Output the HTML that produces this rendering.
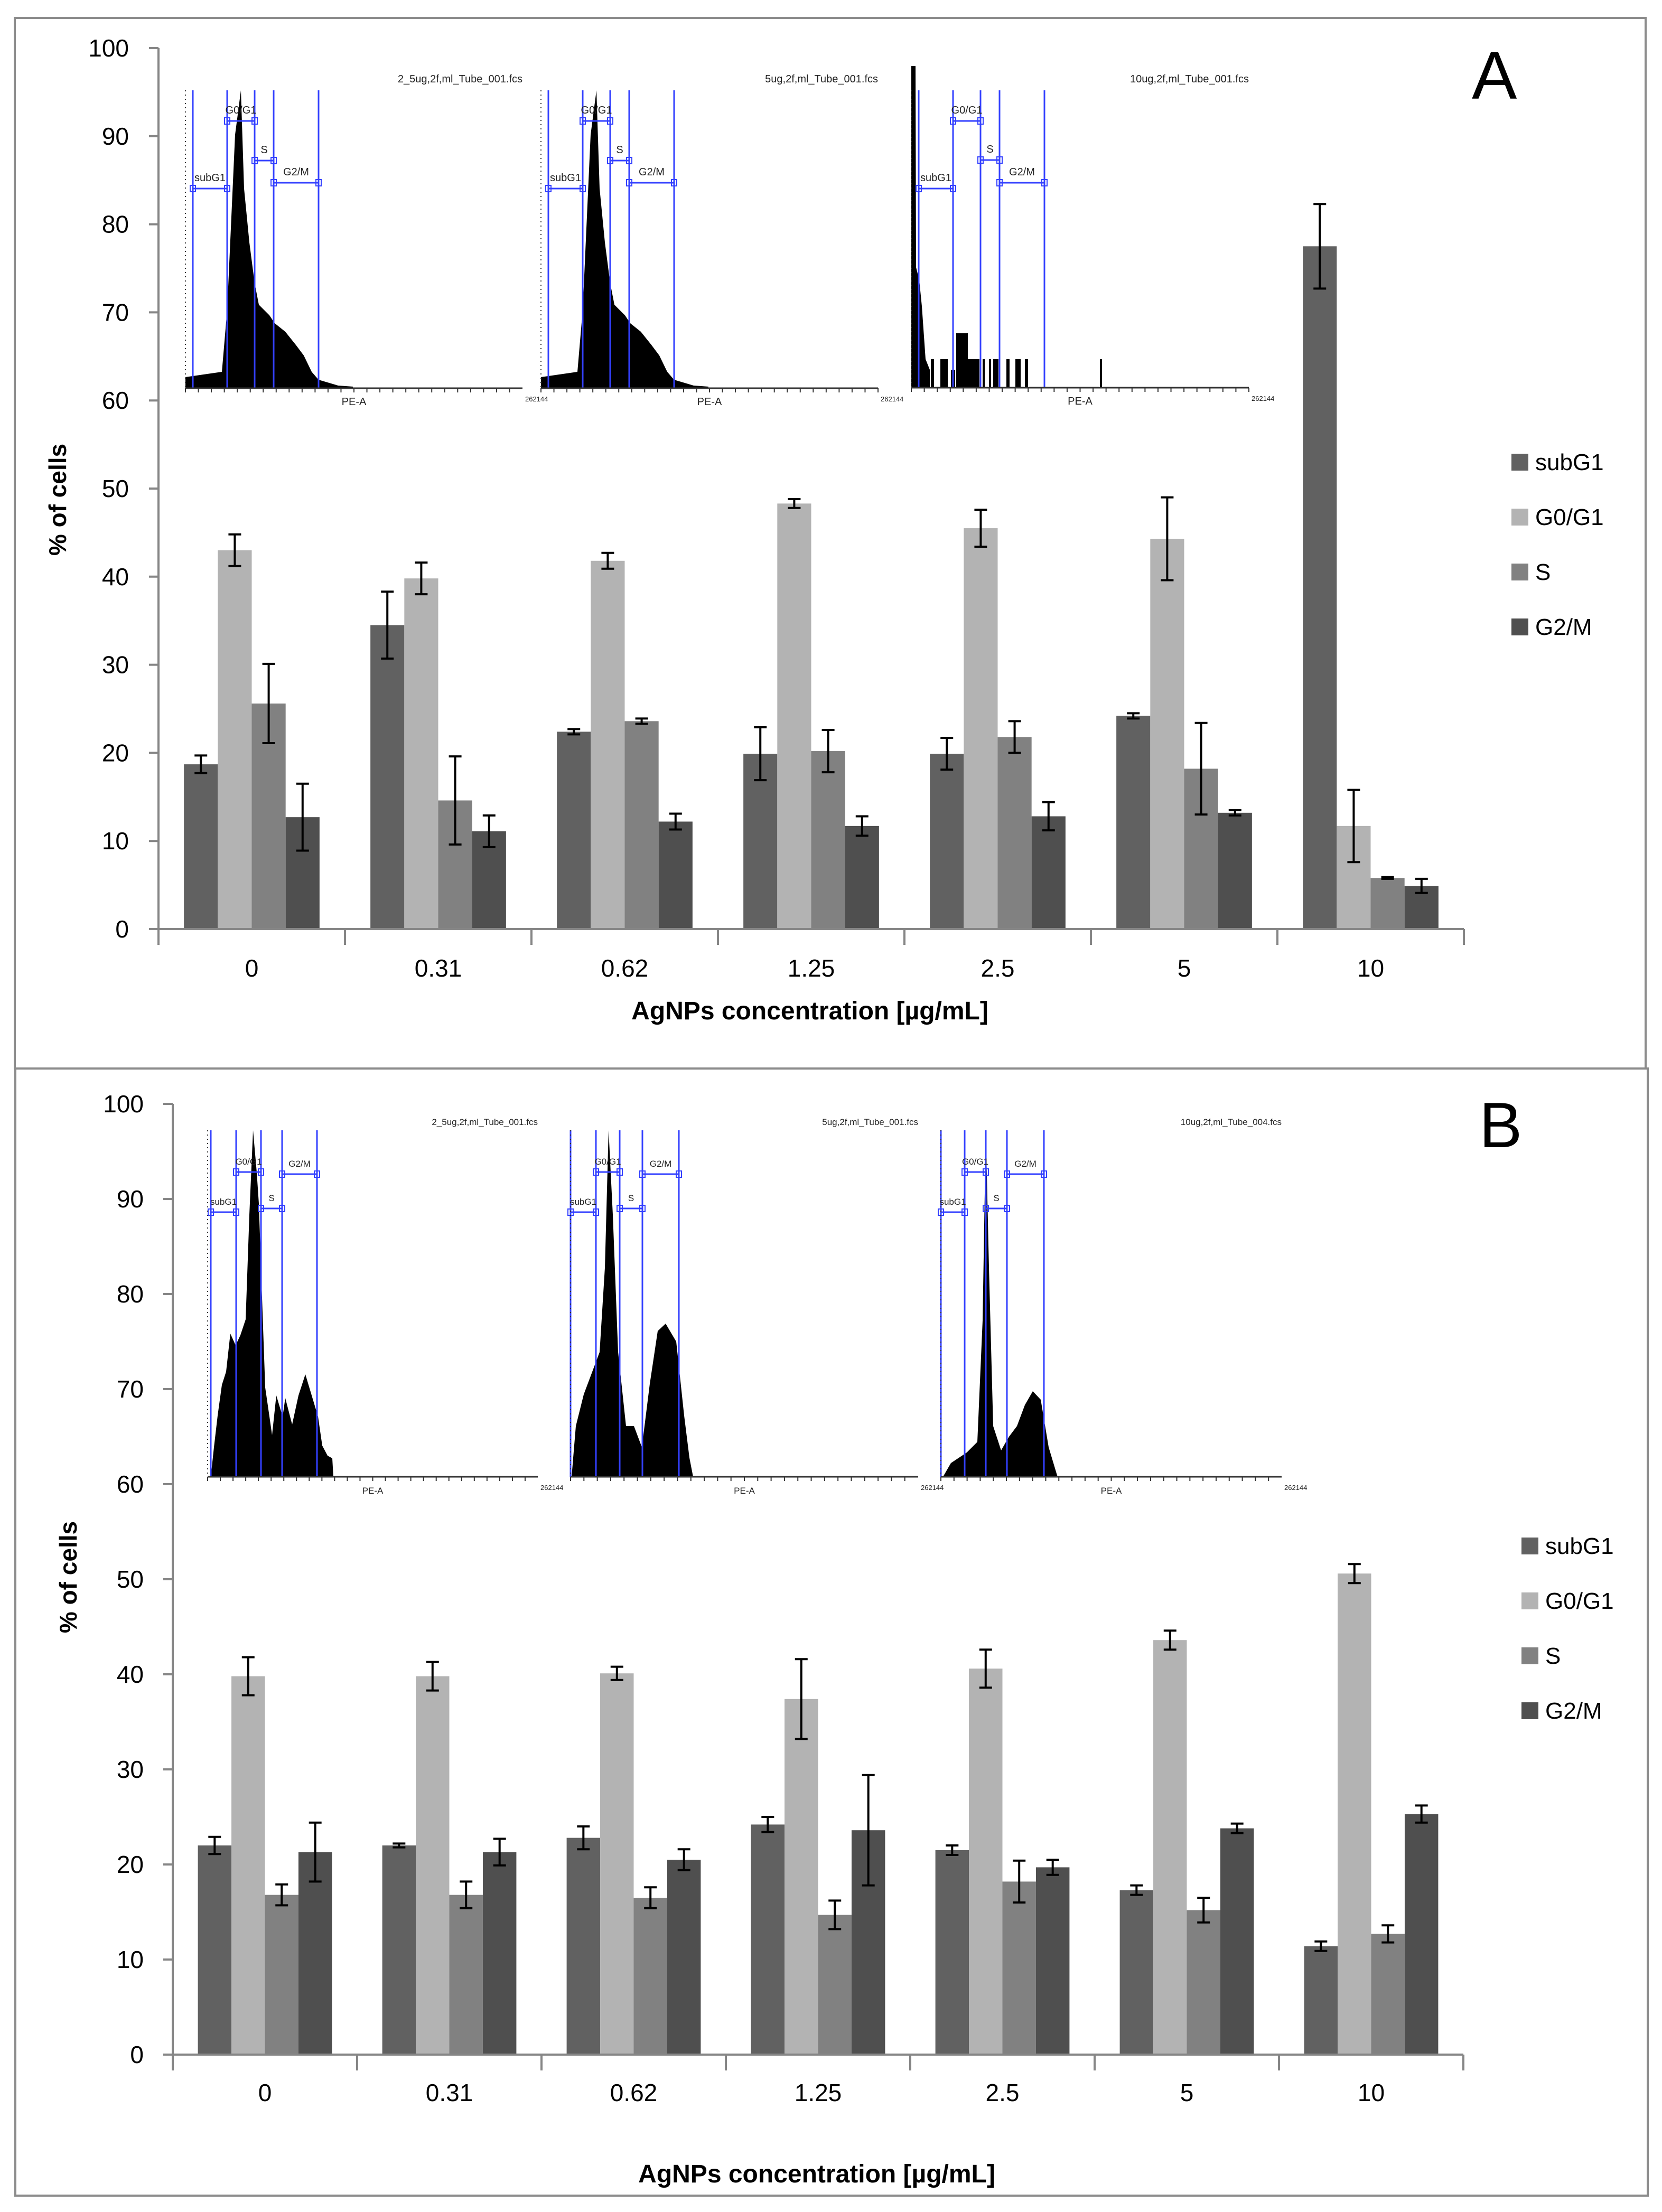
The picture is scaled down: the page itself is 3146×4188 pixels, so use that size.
<!DOCTYPE html>
<html><head><meta charset="utf-8">
<style>
html,body{margin:0;padding:0;background:#fff;}
svg{display:block;font-family:"Liberation Sans",sans-serif;}
</style></head>
<body>
<svg id="fig" width="3146" height="4188" viewBox="0 0 3146 4188" xmlns="http://www.w3.org/2000/svg">
<rect x="0" y="0" width="3146" height="4188" fill="#fff"/>
<rect x="28" y="34" width="3087" height="1989" fill="none" stroke="#8c8c8c" stroke-width="4"/>
<rect x="29" y="2023" width="3090" height="2134" fill="none" stroke="#8c8c8c" stroke-width="4"/>
<text x="2786" y="187" font-size="128">A</text>
<text x="2800" y="2172" font-size="122">B</text>
<g id="gA"></g>
<g id="gB"></g>
<g id="insets"></g>
</svg>
<script>
const categories = ["0","0.31","0.62","1.25","2.5","5","10"];
const seriesNames = ["subG1","G0/G1","S","G2/M"];
const yTicks = [0,10,20,30,40,50,60,70,80,90,100];
// Panel A values
const aSubG1 = [18.7,34.5,22.4,19.9,19.9,24.2,77.5];
const aG0G1  = [43.0,39.8,41.8,48.3,45.5,44.3,11.7];
const aS     = [25.6,14.6,23.6,20.2,21.8,18.2,5.8];
const aG2M   = [12.7,11.1,12.2,11.7,12.8,13.2,4.9];
const aErrSubG1 = [1.0,3.8,0.3,3.0,1.8,0.3,4.8];
const aErrG0G1  = [1.8,1.8,0.9,0.5,2.1,4.7,4.1];
const aErrS     = [4.5,5.0,0.3,2.4,1.8,5.2,0.1];
const aErrG2M   = [3.8,1.8,0.9,1.1,1.6,0.3,0.8];
// Panel B values
const bSubG1 = [22.0,22.0,22.8,24.2,21.5,17.3,11.4];
const bG0G1  = [39.8,39.8,40.1,37.4,40.6,43.6,50.6];
const bS     = [16.8,16.8,16.5,14.7,18.2,15.2,12.7];
const bG2M   = [21.3,21.3,20.5,23.6,19.7,23.8,25.3];
const bErrSubG1 = [0.9,0.2,1.2,0.8,0.5,0.5,0.5];
const bErrG0G1  = [2.0,1.5,0.7,4.2,2.0,1.0,1.0];
const bErrS     = [1.1,1.4,1.1,1.5,2.2,1.3,0.9];
const bErrG2M   = [3.1,1.4,1.1,5.8,0.8,0.5,0.9];

const NS="http://www.w3.org/2000/svg";
const colors=["#616161","#b3b3b3","#818181","#4f4f4f"];
function mk(tag,attrs,parent){const e=document.createElementNS(NS,tag);for(const k in attrs)e.setAttribute(k,attrs[k]);parent.appendChild(e);return e;}

function drawChart(g,cfg){
  const {x0,y0,unit,cw,vals,errs,labelRight,catY,xTitle,xTitleX,xTitleY,yTitleX,yTitleY,legX,legY}=cfg;
  const yS=v=>y0-v*unit;
  const xEnd=x0+cw*categories.length;
  // y ticks
  yTicks.forEach(t=>{
    const tk=mk('line',{x1:x0-18,x2:x0,y1:yS(t),y2:yS(t),stroke:'#868686','stroke-width':4},g);
    
    
    const tl=mk('text',{x:labelRight,y:yS(t)+16,'font-size':46,'text-anchor':'end'},g);
    tl.textContent=t;
    
    
  });
  const bw=cw/5.5;
  categories.forEach((c,i)=>{
    const gx=x0+i*cw+bw*0.75;
    for(let s=0;s<4;s++){
      const v=vals[s][i], e=errs[s][i];
      const bx=gx+s*bw;
      const r=mk('rect',{x:bx,y:yS(v),width:bw,height:v*unit,fill:colors[s]},g);
      
      
      const cx=bx+bw/2;
      const eg=mk('g',{stroke:'#000','stroke-width':4},g);
      
      
      mk('line',{x1:cx,x2:cx,y1:yS(v+e),y2:yS(v-e)},eg);
      mk('line',{x1:cx-12,x2:cx+12,y1:yS(v+e),y2:yS(v+e)},eg);
      mk('line',{x1:cx-12,x2:cx+12,y1:yS(v-e),y2:yS(v-e)},eg);
    }
    const cl=mk('text',{x:x0+i*cw+cw/2,y:catY,'font-size':46,'text-anchor':'middle'},g);
    cl.textContent=c;
    
    
  });
  for(let i=0;i<=categories.length;i++){
    const t=mk('line',{x1:x0+i*cw,x2:x0+i*cw,y1:y0,y2:y0+30,stroke:'#868686','stroke-width':4},g);
    
    
  }
  const ya=mk('line',{x1:x0,x2:x0,y1:yS(100),y2:y0,stroke:'#868686','stroke-width':4},g);
  
  
  const xa=mk('line',{x1:x0-18,x2:xEnd,y1:y0,y2:y0,stroke:'#868686','stroke-width':4},g);
  
  
  const xt=mk('text',{x:xTitleX,y:xTitleY,'font-size':48,'font-weight':'bold','text-anchor':'middle','xml:space':'preserve'},g);
  xt.textContent=xTitle;
  
  
  const yt=mk('text',{x:0,y:0,'font-size':46,'font-weight':'bold','text-anchor':'middle',transform:`translate(${yTitleX},${yTitleY}) rotate(-90)`},g);
  yt.textContent='% of cells';
  
  
  seriesNames.forEach((n,s)=>{
    const lg=mk('g',{},g);
    
    
    mk('rect',{x:legX,y:legY+s*104-16,width:32,height:32,fill:colors[s]},lg);
    const lt=mk('text',{x:legX+45,y:legY+s*104+15,'font-size':44},lg);
    lt.textContent=n;
  });
}

drawChart(document.getElementById('gA'),{x0:300,y0:1759,unit:16.68,cw:353,
  vals:[aSubG1,aG0G1,aS,aG2M],errs:[aErrSubG1,aErrG0G1,aErrS,aErrG2M],
  labelRight:244,catY:1849,xTitle:'AgNPs concentration [µg/mL]',xTitleX:1533,xTitleY:1930,
  yTitleX:125,yTitleY:946,legX:2861,legY:875});
drawChart(document.getElementById('gB'),{x0:327,y0:3890,unit:18.0,cw:349,
  vals:[bSubG1,bG0G1,bS,bG2M],errs:[bErrSubG1,bErrG0G1,bErrS,bErrG2M],
  labelRight:272,catY:3978,xTitle:'AgNPs concentration  [µg/mL]',xTitleX:1546,xTitleY:4132,
  yTitleX:145,yTitleY:2986,legX:2880,legY:2927});

// ---- flow cytometry histogram insets (decorative images) ----
const ins=document.getElementById('insets');
function inset(o){
  const g=mk('g',{},ins);
  
  
  // histogram fill
  const pts=[[o.x0,o.base]].concat(o.prof).concat([[o.prof[o.prof.length-1][0],o.base]]);
  mk('polygon',{points:pts.map(p=>p.join(',')).join(' '),fill:'#000'},g);
  (o.extra||[]).forEach(b=>mk('rect',{x:b[0],y:b[1],width:b[2],height:o.base-b[1],fill:'#000'},g));
  // gate lines
  o.gx.forEach(x=>mk('line',{x1:x,x2:x,y1:o.top,y2:o.base,stroke:'#3340ff','stroke-width':3},g));
  const segs=[[0,1,o.gy[0],'subG1'],[1,2,o.gy[1],'G0/G1'],[2,3,o.gy[2],'S'],[3,4,o.gy[3],'G2/M']];
  segs.forEach(s=>{
    const xa=o.gx[s[0]],xb=o.gx[s[1]];
    mk('line',{x1:xa,x2:xb,y1:s[2],y2:s[2],stroke:'#3340ff','stroke-width':3},g);
    mk('rect',{x:xa-5,y:s[2]-6,width:10,height:12,fill:'none',stroke:'#3340ff','stroke-width':2},g);
    mk('rect',{x:xb-5,y:s[2]-6,width:10,height:12,fill:'none',stroke:'#3340ff','stroke-width':2},g);
    const t=mk('text',{x:(xa+xb)/2,y:s[2]-14,'font-size':o.fs,'text-anchor':'middle',fill:'#222'},g);
    t.textContent=s[3];
  });
  // axes
  mk('line',{x1:o.x0,x2:o.x1,y1:o.base,y2:o.base,stroke:'#333','stroke-width':3},g);
  mk('line',{x1:o.x0,x2:o.x0,y1:o.top,y2:o.base,stroke:'#333','stroke-width':2,'stroke-dasharray':'2,6'},g);
  for(let x=o.x0;x<=o.x1;x+=(o.x1-o.x0)/26) mk('line',{x1:x,x2:x,y1:o.base,y2:o.base+8,stroke:'#333','stroke-width':2},g);
  const pe=mk('text',{x:(o.x0+o.x1)/2,y:o.base+32,'font-size':o.fs,'text-anchor':'middle',fill:'#222'},g);pe.textContent='PE-A';
  const mx=mk('text',{x:o.x1+5,y:o.base+25,'font-size':13,fill:'#222'},g);mx.textContent='262144';
  const tt=mk('text',{x:o.x1,y:o.ty,'font-size':o.fs,'text-anchor':'end',fill:'#222'},g);tt.textContent=o.title;
}
const a1=[[351,714],[420,704],[430,587],[445,255],[456,171],[462,357],[472,459],[482,536],[490,577],[510,597],[520,612],[540,628],[560,653],[575,673],[590,704],[603,719],[640,730],[668,732]];
inset({x0:351,x1:989,base:735,top:171,prof:a1,gx:[365,430,482,518,603],gy:[357,229,304,346],title:'2_5ug,2f,ml_Tube_001.fcs',ty:156,fs:20});
inset({x0:1024,x1:1662,base:735,top:171,prof:a1.map(p=>[p[0]+673,p[1]]),gx:[1038,1103,1155,1191,1276],gy:[357,229,304,346],title:'5ug,2f,ml_Tube_001.fcs',ty:156,fs:20});
inset({x0:1725,x1:2364,base:734,top:171,prof:[[1725,125],[1733,125],[1734,506],[1740,530],[1745,580],[1752,680],[1760,700]],
  extra:[[1762,680,6],[1780,680,14],[1800,700,8],[1810,631,22],[1832,680,22],[1860,680,4],[1872,680,4],[1880,680,10],[1905,680,6],[1922,680,10],[1940,680,6],[2082,680,4]],
  gx:[1739,1804,1856,1892,1977],gy:[357,229,303,346],title:'10ug,2f,ml_Tube_001.fcs',ty:156,fs:20});
const b1=[[399,2796],[405,2740],[412,2680],[420,2622],[428,2597],[436,2525],[446,2547],[455,2528],[465,2498],[472,2300],[479,2140],[486,2220],[490,2279],[495,2428],[502,2627],[510,2682],[515,2717],[523,2642],[535,2682],[540,2647],[553,2697],[565,2642],[578,2602],[590,2642],[602,2682],[610,2737],[620,2756],[629,2761],[631,2796]];
inset({x0:393,x1:1018,base:2796,top:2140,prof:b1,gx:[399,447,494,534,600],gy:[2295,2219,2288,2223],title:'2_5ug,2f,ml_Tube_001.fcs',ty:2130,fs:17});
inset({x0:1080,x1:1738,base:2796,top:2140,prof:[[1082,2796],[1090,2700],[1105,2640],[1120,2600],[1135,2560],[1145,2400],[1152,2140],[1160,2300],[1170,2560],[1185,2700],[1200,2700],[1215,2740],[1230,2620],[1245,2520],[1260,2506],[1280,2540],[1295,2680],[1305,2760],[1312,2796]],
  gx:[1080,1128,1173,1216,1285],gy:[2295,2219,2288,2223],title:'5ug,2f,ml_Tube_001.fcs',ty:2130,fs:17});
inset({x0:1781,x1:2426,base:2796,top:2140,prof:[[1785,2796],[1800,2770],[1830,2750],[1850,2730],[1860,2500],[1866,2140],[1872,2400],[1880,2700],[1895,2746],[1910,2720],[1925,2700],[1940,2660],[1955,2634],[1970,2650],[1985,2740],[2000,2790],[2002,2796]],
  gx:[1781,1826,1866,1906,1976],gy:[2295,2219,2288,2223],title:'10ug,2f,ml_Tube_004.fcs',ty:2130,fs:17});
</script>
</body></html>
